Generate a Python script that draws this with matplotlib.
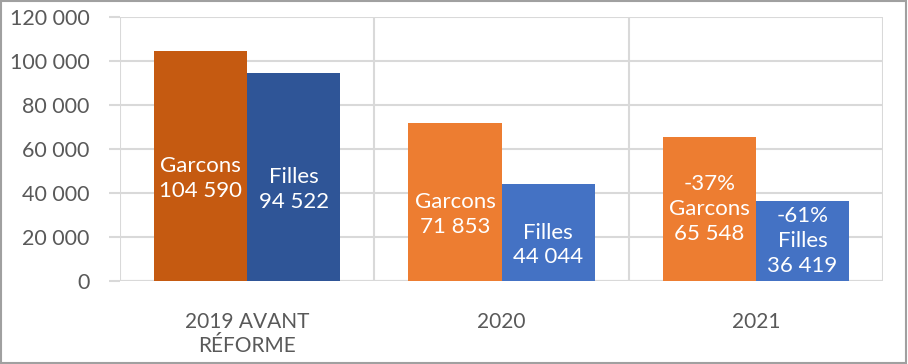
import matplotlib.pyplot as plt
from matplotlib.patches import Rectangle
from matplotlib.ticker import FuncFormatter, FixedLocator

plt.rcParams['font.family'] = ['Lato', 'DejaVu Sans']

categories = ["2019 AVANT\nRÉFORME", "2020", "2021"]
garcons = [104590, 71853, 65548]
filles = [94522, 44044, 36419]
garcons_pct = ["", "", "-37%"]
filles_pct = ["", "", "-61%"]
garcons_colors = ["#C55A11", "#ED7D31", "#ED7D31"]
filles_colors = ["#2F5597", "#4472C4", "#4472C4"]

fig = plt.figure(figsize=(9.08, 3.64), dpi=100)
ax = fig.add_axes([0.1322, 0.228, 0.9725 - 0.1322, 0.9533 - 0.228])

w = 0.366
x = list(range(len(categories)))
ax.bar([i - w / 2 for i in x], garcons, width=w, color=garcons_colors, zorder=3)
ax.bar([i + w / 2 for i in x], filles, width=w, color=filles_colors, zorder=3)

def fmt(v):
    return f"{v:,.0f}".replace(",", " ")

for i in x:
    ax.text(i - w / 2, garcons[i] / 2, f"{garcons_pct[i]}\nGarcons\n{fmt(garcons[i])}",
            ha="center", va="center", color="white", fontsize=16, linespacing=1.3, zorder=4)
    ax.text(i + w / 2, filles[i] / 2, f"{filles_pct[i]}\nFilles\n{fmt(filles[i])}",
            ha="center", va="center", color="white", fontsize=16, linespacing=1.3, zorder=4)

ax.set_xlim(-0.5, 2.5)
ax.set_ylim(0, 120000)
ax.set_yticks(range(0, 120001, 20000))
ax.yaxis.set_major_formatter(FuncFormatter(lambda v, p: fmt(v)))
ax.set_xticks(x)
ax.set_xticklabels(categories, linespacing=1.3)
ax.xaxis.set_minor_locator(FixedLocator([-0.5, 0.5, 1.5, 2.5]))

for s in ax.spines.values():
    s.set_visible(False)
ax.grid(axis="y", which="major", color="#D9D9D9", linewidth=1.5, zorder=0)
ax.grid(axis="x", which="minor", color="#D9D9D9", linewidth=1.5, zorder=0)
ax.tick_params(axis="y", length=8, width=1.5, color="#D9D9D9", labelsize=15.5,
               labelcolor="#595959", pad=14)
ax.tick_params(axis="x", which="major", length=0, labelsize=15, labelcolor="#595959", pad=22)
ax.tick_params(axis="x", which="minor", length=0)
ax.axhline(0, color="#D9D9D9", linewidth=1.5, zorder=2)

fig.patches.append(Rectangle((0.001, 0.003), 0.997, 0.994, transform=fig.transFigure,
                             fill=False, edgecolor="#A0A0A0", linewidth=1.5))

fig.savefig("out.png", dpi=100)
